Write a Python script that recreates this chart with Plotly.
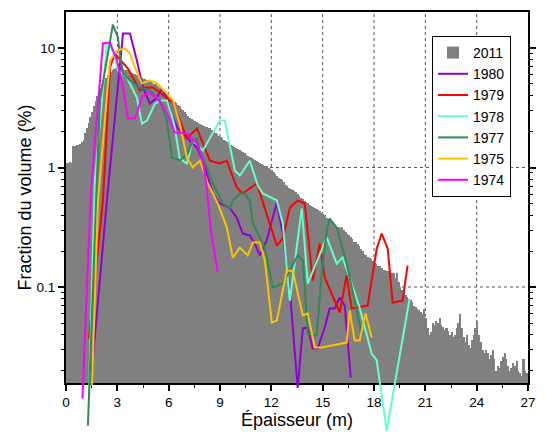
import plotly.graph_objects as go

# ---------------- data ----------------
bin_width = 0.1
hist_2011 = [
    1.10, 1.10, 1.12, 1.10, 1.50, 1.52, 1.55, 1.55, 1.58, 1.62,
    1.70, 1.95, 2.15, 2.35, 2.65, 2.90, 3.30, 3.60, 4.00, 4.30,
    4.60, 5.00, 5.30, 5.60, 5.90, 6.10, 6.30, 6.50, 6.70, 6.80,
    6.90, 6.90, 6.80, 6.70, 6.60, 6.50, 6.40, 6.30, 6.20, 6.10,
    6.00, 5.90, 5.80, 5.70, 5.60, 5.50, 5.45, 5.35, 5.30, 5.20,
    5.10, 5.00, 4.95, 4.85, 4.75, 4.65, 4.55, 4.40, 4.25, 4.10,
    3.95, 3.80, 3.70, 3.55, 3.45, 3.35, 3.25, 3.10, 3.00, 2.90,
    2.80, 2.70, 2.62, 2.55, 2.50, 2.45, 2.40, 2.35, 2.30, 2.25,
    2.22, 2.20, 2.18, 2.16, 2.12, 2.05, 2.00, 1.95, 1.90, 1.85,
    1.80, 1.75, 1.70, 1.68, 1.65, 1.60, 1.55, 1.52, 1.48, 1.45,
    1.42, 1.40, 1.38, 1.36, 1.32, 1.28, 1.25, 1.22, 1.20, 1.17,
    1.15, 1.14, 1.12, 1.10, 1.08, 1.05, 1.03, 1.02, 1.00, 0.98,
    0.95, 0.92, 0.88, 0.85, 0.82, 0.80, 0.78, 0.75, 0.72, 0.70,
    0.68, 0.66, 0.65, 0.63, 0.62, 0.60, 0.58, 0.56, 0.54, 0.52,
    0.51, 0.50, 0.49, 0.48, 0.47, 0.46, 0.45, 0.44, 0.43, 0.42,
    0.41, 0.40, 0.38, 0.37, 0.36, 0.35, 0.34, 0.33, 0.32, 0.32,
    0.31, 0.32, 0.30, 0.29, 0.28, 0.27, 0.26, 0.25, 0.24, 0.24,
    0.23, 0.22, 0.21, 0.20, 0.19, 0.185, 0.18, 0.175, 0.17, 0.165,
    0.16, 0.155, 0.15, 0.15, 0.145, 0.14, 0.14, 0.137, 0.135, 0.13,
    0.13, 0.13, 0.12, 0.13, 0.11, 0.10, 0.095, 0.09, 0.085, 0.082,
    0.08, 0.078, 0.075, 0.07, 0.068, 0.066, 0.064, 0.062, 0.06, 0.065,
    0.055, 0.045, 0.04, 0.042, 0.05, 0.048, 0.052, 0.05, 0.055, 0.048,
    0.046, 0.044, 0.045, 0.043, 0.04, 0.042, 0.038, 0.04, 0.045, 0.05,
    0.06, 0.045, 0.038, 0.035, 0.04, 0.033, 0.031, 0.036, 0.04, 0.045,
    0.052, 0.04, 0.035, 0.03, 0.028, 0.03, 0.028, 0.025, 0.027, 0.03,
    0.025, 0.02, 0.022, 0.021, 0.024, 0.026, 0.028, 0.025, 0.022, 0.02,
    0.021, 0.023, 0.022, 0.024, 0.02, 0.019, 0.018, 0.025, 0.02, 0.019,
]
bin_centers = [round(bin_width / 2 + i * bin_width, 3) for i in range(len(hist_2011))]

x_1980 = [1.46, 2.39, 3.33, 3.74, 4.14, 4.50, 4.90, 5.31, 5.60, 5.90, 6.19, 6.54, 7.06, 7.65, 8.00,
          8.58, 8.99, 9.57, 9.98, 10.33, 10.74, 11.03, 11.33, 11.73, 12.32, 12.67, 13.08, 13.54,
          13.84, 14.13, 14.42, 14.71, 15.12, 15.41, 15.70, 16.00, 16.29, 16.64]
y_1980 = [0.0165, 0.53, 13.2, 13.2, 7.86, 4.67, 3.43, 3.85, 4.58, 3.85, 2.72, 2.12, 1.78, 1.47, 1.14,
          0.606, 0.50, 0.46, 0.38, 0.28, 0.27, 0.231, 0.184, 0.245, 0.51, 0.28, 0.0935, 0.0144,
          0.045, 0.0458, 0.0306, 0.0306, 0.0458, 0.066, 0.066, 0.0817, 0.070, 0.0175]

x_1979 = [1.34, 2.16, 2.57, 2.86, 3.04, 3.33, 3.62, 3.91, 4.32, 4.61, 5.08, 5.49, 5.90, 6.25, 6.65,
          7.06, 7.65, 8.00, 8.41, 8.99, 9.40, 9.98, 10.33, 11.15, 11.73, 12.32, 12.67, 13.08, 13.54,
          13.95, 14.42, 14.83, 15.12, 16.00, 16.40, 16.70, 17.63, 18.16, 18.45, 18.80, 19.09, 19.67,
          19.96]
y_1979 = [0.037, 0.53, 6.87, 9.0, 8.33, 7.42, 6.74, 5.66, 4.41, 4.67, 4.67, 4.24, 3.78, 3.50, 2.47,
          1.75, 2.12, 1.59, 1.14, 1.08, 1.14, 0.68, 0.606, 0.735, 0.412, 0.222, 0.255, 0.46, 0.53,
          0.50, 0.113, 0.231, 0.12, 0.0612, 0.125, 0.066, 0.070, 0.21, 0.28, 0.21, 0.0742, 0.077,
          0.151]

x_1978 = [1.34, 1.69, 2.39, 2.57, 2.86, 3.04, 3.56, 4.14, 4.44, 4.73, 5.20, 5.60, 5.90, 6.30, 6.65,
          7.06, 7.41, 8.00, 8.99, 9.28, 9.87, 10.16, 10.74, 11.21, 11.50, 12.32, 12.67, 13.08, 13.78,
          14.13, 15.24, 15.82, 16.17, 17.16, 17.86, 18.16, 18.74, 20.08]
y_1978 = [0.0124, 0.78, 11.1, 10.9, 8.17, 6.48, 5.66, 3.85, 2.33, 2.47, 3.43, 3.64, 3.64, 2.38, 1.19,
          1.08, 1.68, 1.39, 2.47, 2.47, 0.94, 0.857, 1.14, 0.707, 0.606, 0.53, 0.34, 0.077, 0.454,
          0.107, 0.26, 0.157, 0.177, 0.0674, 0.0278, 0.0243, 0.0063, 0.080]

x_1977 = [1.28, 1.98, 2.74, 3.04, 3.15, 3.33, 3.74, 4.32, 4.90, 5.49, 5.90, 6.19, 6.65, 7.12, 7.41,
          7.65, 7.82, 8.23, 8.70, 9.17, 9.57, 9.75, 10.16, 10.45, 10.74, 10.92, 11.62, 12.08, 12.67,
          13.08, 13.54, 13.84, 14.13, 14.65, 14.94, 15.24, 15.41, 15.82, 16.00, 16.40, 16.87, 17.28]
y_1977 = [0.0069, 3.64, 15.7, 12.2, 8.65, 6.12, 5.35, 4.67, 4.41, 3.64, 2.47, 1.21, 1.14, 1.31, 1.68,
          1.75, 1.39, 1.0, 0.68, 0.50, 0.454, 0.53, 0.606, 0.606, 0.53, 0.34, 0.214, 0.099, 0.107,
          0.137, 0.184, 0.167, 0.0408, 0.0393, 0.13, 0.297, 0.374, 0.315, 0.255, 0.157, 0.077, 0.0393]

x_1975 = [1.52, 1.87, 2.57, 2.98, 3.44, 3.74, 4.03, 4.44, 4.90, 5.31, 5.90, 6.25, 6.65, 7.06, 7.41,
          7.82, 8.29, 8.87, 9.40, 9.75, 10.16, 10.62, 10.92, 11.33, 11.62, 12.03, 12.32, 12.90, 13.25,
          13.84, 14.13, 14.54, 14.94, 16.40, 16.58, 16.87, 17.16, 17.51, 17.86]
y_1975 = [0.015, 0.53, 7.86, 9.53, 9.9, 9.0, 6.87, 5.05, 5.35, 5.05, 4.16, 3.64, 2.33, 1.21, 1.0,
          1.14, 0.735, 0.50, 0.315, 0.176, 0.214, 0.184, 0.236, 0.236, 0.167, 0.0504, 0.0524, 0.137,
          0.137, 0.0578, 0.06, 0.0312, 0.0312, 0.0343, 0.0636, 0.0357, 0.0357, 0.06, 0.0378]

x_1974 = [0.96, 1.46, 2.16, 2.57, 2.98, 3.33, 3.62, 4.03, 4.44, 4.79, 5.31, 5.90, 6.36, 7.06, 7.65,
          8.00, 8.23, 8.46, 8.87]
y_1974 = [0.0117, 0.64, 10.9, 11.1, 7.86, 4.67, 2.57, 2.57, 3.85, 4.24, 3.85, 2.83, 1.96, 1.93, 1.59,
          1.14, 0.68, 0.30, 0.132]

series = [
    ("1980", x_1980, y_1980, "#9400D3"),
    ("1979", x_1979, y_1979, "#FF0000"),
    ("1978", x_1978, y_1978, "#66FFCC"),
    ("1977", x_1977, y_1977, "#2E8B57"),
    ("1975", x_1975, y_1975, "#FFC000"),
    ("1974", x_1974, y_1974, "#FF00FF"),
]

x_ticks = [0, 3, 6, 9, 12, 15, 18, 21, 24, 27]
y_ticks = [0.1, 1, 10]
y_ticktext = ["0.1", "1", "10"]
y_minor = [0.02, 0.03, 0.04, 0.05, 0.06, 0.07, 0.08, 0.09,
           0.2, 0.3, 0.4, 0.5, 0.6, 0.7, 0.8, 0.9,
           2, 3, 4, 5, 6, 7, 8, 9]
grid_x = [3, 6, 9, 12, 15, 18, 21, 24]
grid_y = [0.1, 1]

# ---------------- figure ----------------
FONT = "Arial, 'Liberation Sans', sans-serif"
W, H = 546, 432
mt, mb = 12, 0
plot_h = H - mt - mb
axis_bottom_px = 383
ydom0 = (H - axis_bottom_px) / plot_h
y_lo, y_hi = -1.803, 1.301
px_per_dec = (axis_bottom_px - mt) / (y_hi - y_lo)
y2_lo = y_hi - plot_h / px_per_dec

fig = go.Figure()
fig.add_trace(go.Bar(
    x=bin_centers, y=hist_2011, width=bin_width, name="2011",
    marker=dict(color="#808080", line=dict(width=0)),
    xaxis="x", yaxis="y",
))
for name, xs, ys, col in series:
    fig.add_trace(go.Scatter(
        x=xs, y=ys, mode="lines", name=name,
        line=dict(color=col, width=2),
        xaxis="x", yaxis="y2",
    ))

shapes = []
for gx in grid_x:
    shapes.append(dict(type="line", xref="x", yref="y domain", x0=gx, x1=gx, y0=0, y1=1,
                       line=dict(color="#555555", width=1, dash="3px,3px"), layer="below"))
for gy in grid_y:
    shapes.append(dict(type="line", xref="x domain", yref="y", x0=0, x1=1, y0=gy, y1=gy,
                       line=dict(color="#555555", width=1, dash="3px,3px"), layer="below"))

fig.update_layout(
    width=W, height=H,
    margin=dict(l=66, r=18, t=mt, b=mb),
    paper_bgcolor="white", plot_bgcolor="rgba(0,0,0,0)",
    font=dict(family=FONT, size=13.5, color="black"),
    bargap=0,
    shapes=shapes,
    xaxis=dict(
        range=[0, 27], anchor="y", tickvals=x_ticks, ticks="outside", ticklen=6, tickwidth=1.5,
        tickcolor="black", showline=True, linecolor="black", linewidth=2, mirror=True,
        showgrid=False, zeroline=False,
        minor=dict(dtick=1.5, tick0=0, ticks="outside", ticklen=3, tickwidth=1, tickcolor="black", showgrid=False),
        title=dict(text="Épaisseur (m)", font=dict(size=18), standoff=4),
    ),
    yaxis=dict(
        type="log", range=[y_lo, y_hi], domain=[ydom0, 1], anchor="x",
        tickvals=y_ticks, ticktext=y_ticktext, ticks="outside", ticklen=6, tickwidth=1.5,
        tickcolor="black", showline=True, linecolor="black", linewidth=2, mirror="ticks",
        showgrid=False, zeroline=False,
        minor=dict(tickvals=y_minor, ticks="outside", ticklen=3, tickwidth=1, tickcolor="black", showgrid=False),
        title=dict(text="Fraction du volume (%)", font=dict(size=18), standoff=0),
    ),
    yaxis2=dict(
        type="log", range=[y2_lo, y_hi], domain=[0, 1], anchor="x", visible=False,
    ),
    legend=dict(
        x=(432 - 66) / (W - 66 - 18), y=1 - (36 - mt) / plot_h, xanchor="left", yanchor="top",
        bordercolor="black", borderwidth=1, bgcolor="white",
        font=dict(size=14), tracegroupgap=0, itemwidth=30,
    ),
    showlegend=True,
)

fig.write_html("out.html", config={"displayModeBar": False},
               post_script="document.body.style.margin='0';document.body.style.padding='0';")
